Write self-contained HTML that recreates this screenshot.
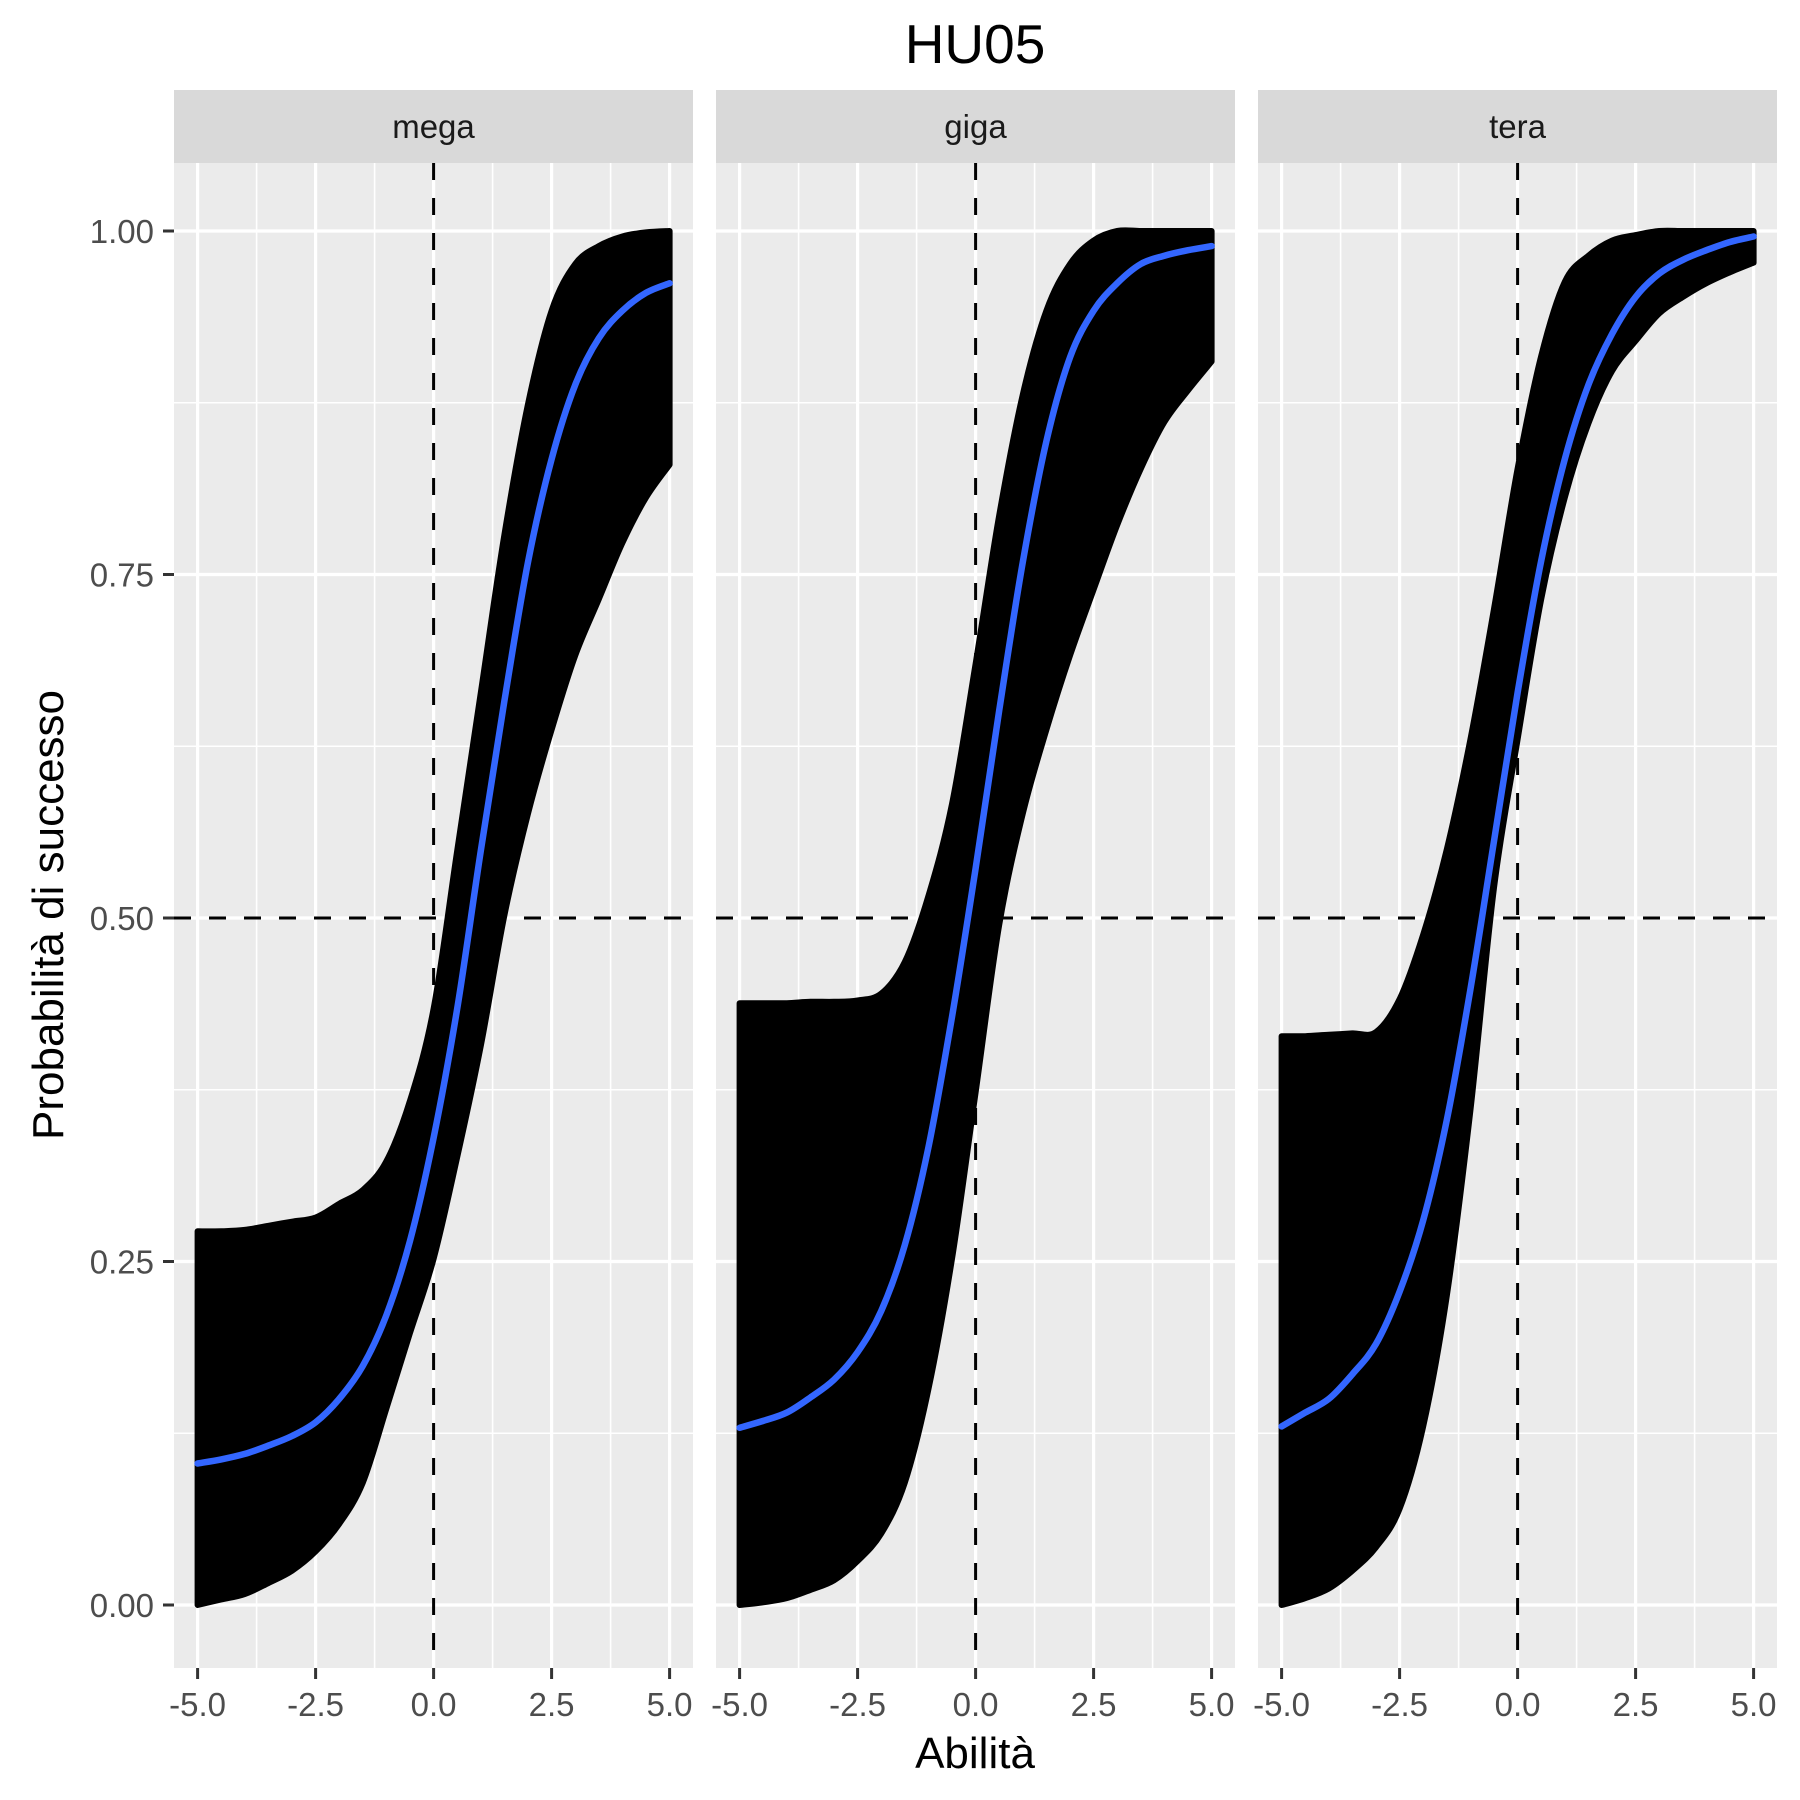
<!DOCTYPE html>
<html><head><meta charset="utf-8"><style>
html,body{margin:0;padding:0;background:#fff}
svg{display:block}
text{font-family:"Liberation Sans",Arial,sans-serif}
</style></head><body>
<svg id="chart" width="1800" height="1800" viewBox="0 0 1800 1800" xmlns="http://www.w3.org/2000/svg">
<text x="975" y="63" font-size="55" text-anchor="middle" fill="#000">HU05</text>
<text x="975" y="1768" font-size="44" text-anchor="middle" fill="#000">Abilità</text>
<text transform="translate(63,915) rotate(-90)" font-size="44" text-anchor="middle" fill="#000">Probabilità di successo</text>
<g id="panels"></g>
</svg>
<script>
const panelNames = ["mega","giga","tera"];
const xs = [-5,-4.5,-4,-3.5,-3,-2.5,-2,-1.5,-1,-0.5,0,0.5,1,1.5,2,2.5,3,3.5,4,4.5,5];
const megaUpper = [.272,.272,.273,.276,.279,.282,.292,.302,.323,.367,.434,.549,.664,.779,.874,.942,.976,.989,.996,.999,1.0];
const megaLower = [0,.004,.008,.016,.025,.039,.059,.089,.143,.198,.252,.326,.407,.502,.576,.637,.691,.732,.773,.806,.83];
const megaBlue  = [.103,.106,.11,.116,.123,.133,.15,.174,.211,.265,.34,.434,.549,.658,.759,.834,.888,.922,.942,.955,.962];
const gigaUpper = [.438,.438,.438,.439,.439,.44,.445,.468,.516,.583,.685,.793,.881,.942,.976,.993,1.0,1.0,1.0,1.0,1.0];
const gigaLower = [0,.002,.005,.011,.018,.032,.052,.089,.157,.252,.373,.495,.576,.637,.691,.739,.786,.827,.861,.884,.905];
const gigaBlue  = [.129,.134,.14,.151,.164,.184,.214,.262,.333,.428,.536,.651,.759,.847,.908,.942,.962,.976,.982,.986,.989];
const teraUpper = [.414,.414,.415,.416,.417,.441,.488,.55,.63,.725,.827,.909,.963,.982,.993,.997,1.0,1.0,1.0,1.0,1.0];
const teraLower = [0,.005,.012,.025,.042,.07,.13,.225,.36,.522,.63,.732,.806,.86,.898,.92,.94,.952,.962,.97,.977];
const teraBlue  = [.13,.14,.15,.168,.19,.228,.28,.353,.448,.556,.664,.76,.834,.888,.925,.952,.969,.979,.986,.992,.996];
const uppers = [megaUpper, gigaUpper, teraUpper];
const lowers = [megaLower, gigaLower, teraLower];
const blues = [megaBlue, gigaBlue, teraBlue];
const xTickVals = [-5,-2.5,0,2.5,5];
const xTickLabels = ["-5.0","-2.5","0.0","2.5","5.0"];
const yTickVals = [0,0.25,0.5,0.75,1];
const yTickLabels = ["0.00","0.25","0.50","0.75","1.00"];

const NS="http://www.w3.org/2000/svg";
const root=document.getElementById('panels');
const panelX0=[174,716,1258], PW=519, PT=163, PB=1668, ST=90;
function yS(v){return 1605-1374*v;}
function mk(tag,attrs,parent){const e=document.createElementNS(NS,tag);for(const k in attrs)e.setAttribute(k,attrs[k]);parent.appendChild(e);return e;}
function spline(p,move){
  let d=(move?'M':'L')+p[0][0].toFixed(1)+','+p[0][1].toFixed(1);
  for(let i=0;i<p.length-1;i++){
    const p0=p[Math.max(0,i-1)],p1=p[i],p2=p[i+1],p3=p[Math.min(p.length-1,i+2)];
    const c1=[p1[0]+(p2[0]-p0[0])/6,p1[1]+(p2[1]-p0[1])/6];
    const c2=[p2[0]-(p3[0]-p1[0])/6,p2[1]-(p3[1]-p1[1])/6];
    d+=' C'+c1[0].toFixed(1)+','+c1[1].toFixed(1)+' '+c2[0].toFixed(1)+','+c2[1].toFixed(1)+' '+p2[0].toFixed(1)+','+p2[1].toFixed(1);
  }
  return d;
}

panelNames.forEach((name,pi)=>{
  const x0=panelX0[pi];
  const xS=v=>x0+23.6+47.2*(v+5);
  const g=mk('g',{},root);
  
  
  const bg=mk('rect',{x:x0,y:PT,width:PW,height:PB-PT,fill:'#ebebeb'},g);
  
  
  [-3.75,-1.25,1.25,3.75].forEach(v=>{const l=mk('line',{x1:xS(v),x2:xS(v),y1:PT,y2:PB,stroke:'#fff','stroke-width':1.6},g);
    
    });
  [0.125,0.375,0.625,0.875].forEach(v=>{const l=mk('line',{x1:x0,x2:x0+PW,y1:yS(v),y2:yS(v),stroke:'#fff','stroke-width':1.6},g);
    
    });
  xTickVals.forEach(v=>{const l=mk('line',{x1:xS(v),x2:xS(v),y1:PT,y2:PB,stroke:'#fff','stroke-width':3.2},g);
    
    });
  yTickVals.forEach(v=>{const l=mk('line',{x1:x0,x2:x0+PW,y1:yS(v),y2:yS(v),stroke:'#fff','stroke-width':3.2},g);
    
    });
  const up=uppers[pi], lo=lowers[pi];
  const upPts=xs.map((x,i)=>[xS(x),yS(up[i])]);
  const loPts=xs.map((x,i)=>[xS(x),yS(lo[i])]).reverse();
  const bd=spline(upPts,true)+' '+spline(loPts,false)+' Z';
  const band=mk('path',{d:bd,fill:'#000',stroke:'#000','stroke-width':6,'stroke-linejoin':'round'},g);
  
  
  const hl=mk('line',{x1:x0,x2:x0+PW,y1:yS(0.5),y2:yS(0.5),stroke:'#000','stroke-width':3,'stroke-dasharray':'17,18'},g);
  
  
  const vl=mk('line',{x1:xS(0),x2:xS(0),y1:PT,y2:PB,stroke:'#000','stroke-width':3,'stroke-dasharray':'17,18'},g);
  
  
  const bl=blues[pi];
  const d=spline(xs.map((x,i)=>[xS(x),yS(bl[i])]),true);
  const bp=mk('path',{d:d,fill:'none',stroke:'#3366ff','stroke-width':6.5,'stroke-linecap':'round'},g);
  
  
  const sr=mk('rect',{x:x0,y:ST,width:PW,height:PT-ST,fill:'#d9d9d9'},g);
  
  
  const st=mk('text',{x:x0+PW/2,y:138,'font-size':33,'text-anchor':'middle',fill:'#1a1a1a'},g);
  st.textContent=name;
  
  
  xTickVals.forEach((v,i)=>{
    const t=mk('line',{x1:xS(v),x2:xS(v),y1:PB,y2:PB+11,stroke:'#333','stroke-width':3},g);
    
    
    const tl=mk('text',{x:xS(v),y:1716,'font-size':33,'text-anchor':'middle',fill:'#4d4d4d'},g);
    tl.textContent=xTickLabels[i];
    
    
  });
  if(pi===0){
    yTickVals.forEach((v,i)=>{
      const t=mk('line',{x1:x0-11,x2:x0,y1:yS(v),y2:yS(v),stroke:'#333','stroke-width':3},g);
      
      
      const tl=mk('text',{x:x0-20,y:yS(v)+12,'font-size':33,'text-anchor':'end',fill:'#4d4d4d'},g);
      tl.textContent=yTickLabels[i];
      
      
    });
  }
});
</script>
</body></html>
